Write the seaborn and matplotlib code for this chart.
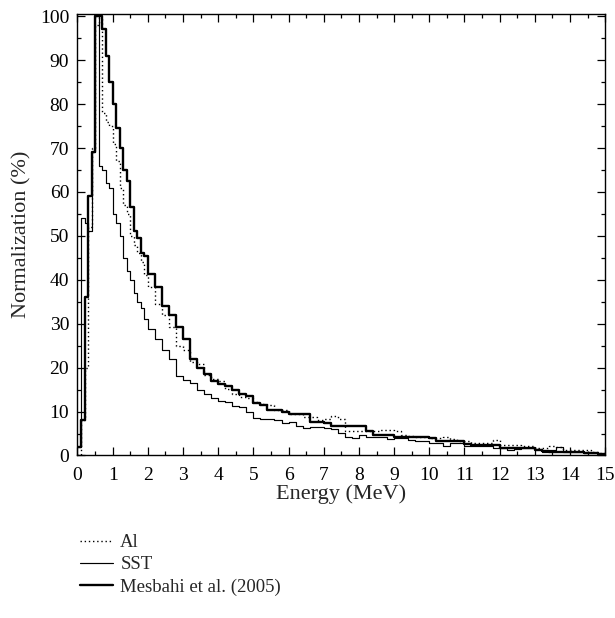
import numpy as np
import pandas as pd
import matplotlib

matplotlib.use("Agg")
import matplotlib.pyplot as plt
from matplotlib.lines import Line2D
from matplotlib.ticker import MultipleLocator
import seaborn as sns

# bin edges (MeV): 0.1 MeV bins up to 2 MeV, 0.2 MeV bins up to 15 MeV
energy_edges = np.round(np.concatenate([np.arange(0, 2.0, 0.1), np.arange(2.0, 15.01, 0.2)]), 2)

al_values = [
    0, 8, 20, 52, 70, 98, 100, 78, 76, 75,
    71, 67, 61, 57, 55, 50, 48, 46, 44, 41,
    38.3, 34.5, 31.9, 29.2, 25,
    23.9, 21.3, 20.9, 18.3, 17.5,
    17, 15.2, 14.1, 13.3, 13,
    12.2, 11.8, 11.4, 10.3, 10.3,
    9.5, 9.5, 8.8, 8.8, 8.0,
    8.4, 8.9, 8.2, 5.5, 5.5,
    5.5, 5.5, 5.5, 5.9, 5.9,
    5.5, 4.7, 4.5, 4.3, 4.3,
    4.0, 4.0, 4.3, 3.8, 3.2,
    3.2, 2.8, 2.8, 2.8, 3.6,
    2.4, 2.4, 2.3, 2.1, 2.1,
    1.7, 1.7, 2.1, 2.0, 1.3,
    1.3, 1.3, 1.2, 0.7, 0.6,
]

sst_values = [
    2, 54, 53, 51, 69, 100, 66, 65, 62, 61,
    55, 53, 50, 45, 42, 40, 37, 35, 33.5, 31,
    28.9, 26.5, 24, 22, 18,
    17.1, 16.4, 15, 14, 13,
    12.4, 12.2, 11.2, 11, 9.9,
    8.6, 8.4, 8.2, 8, 7.3,
    7.6, 6.8, 6.3, 6.5, 6.5,
    6.2, 6, 5.2, 4.2, 4,
    4.7, 4.2, 4.3, 4.3, 3.7,
    4, 4, 3.5, 3.2, 3.2,
    2.9, 2.8, 2.2, 2.8, 2.8,
    2.1, 2.1, 2.1, 2.1, 1.7,
    1.7, 1.3, 1.4, 1.7, 1.7,
    1.5, 0.9, 1.2, 2.0, 0.9,
    0.9, 0.9, 0.6, 0.5, 0.4,
]

mesbahi_values = [
    2, 8, 36, 59, 69, 100, 100, 97, 91, 85,
    80, 74.5, 70, 65, 62.5, 56.5, 51, 49.5, 46, 45.5,
    41.4, 38.3, 34, 32, 29.2,
    26.6, 22, 19.8, 18.6, 17,
    16.2, 15.8, 14.8, 14.1, 13.5,
    12, 11.4, 10.3, 10.3, 10,
    9.4, 9.4, 9.4, 7.6, 7.6,
    7.4, 6.6, 6.6, 6.6, 6.6,
    6.6, 5.5, 4.7, 4.7, 4.7,
    4.3, 4.3, 4.3, 4.3, 4.3,
    3.9, 3.4, 3.2, 3.2, 3.2,
    2.5, 2.4, 2.4, 2.4, 2.3,
    1.8, 1.7, 1.7, 1.7, 1.6,
    1.2, 1.0, 0.9, 0.9, 0.9,
    0.9, 0.9, 0.5, 0.5, 0.4,
]

series_labels = ["Al", "SST", "Mesbahi et al. (2005)"]


def step_frame(values):
    # repeat last value so the final bin gets its right edge
    return pd.DataFrame({"energy": energy_edges, "norm": list(values) + [values[-1]]})


def main():
    sns.set_style("ticks")
    plt.rcParams["font.family"] = ["Liberation Serif", "DejaVu Serif"]
    plt.rcParams["font.size"] = 14

    styles = [
        {"linestyle": (0, (1, 2)), "linewidth": 1.0},
        {"linestyle": "-", "linewidth": 0.85},
        {"linestyle": "-", "linewidth": 1.7},
    ]

    fig = plt.figure(figsize=(6.15, 6.18), dpi=100)
    ax = fig.add_axes([0.126, 0.263, 0.858, 0.715])

    handles = []
    for values, style, label in zip([al_values, sst_values, mesbahi_values], styles, series_labels):
        sns.lineplot(
            data=step_frame(values),
            x="energy",
            y="norm",
            drawstyle="steps-post",
            estimator=None,
            sort=False,
            color="black",
            ax=ax,
            **style,
        )
        handles.append(Line2D([], [], color="black", label=label, **style))

    ax.set_xlim(0, 15)
    ax.set_ylim(0, 100.6)
    ax.xaxis.set_major_locator(MultipleLocator(1))
    ax.xaxis.set_minor_locator(MultipleLocator(0.5))
    ax.yaxis.set_major_locator(MultipleLocator(10))
    ax.yaxis.set_minor_locator(MultipleLocator(5))
    ax.tick_params(which="both", direction="in", top=True, right=True, width=0.9, colors="black")
    ax.tick_params(which="major", length=5.5, pad=6, labelsize=14)
    ax.tick_params(axis="x", which="major", pad=8.5)
    ax.tick_params(which="minor", length=3)
    for spine in ax.spines.values():
        spine.set_linewidth(1.0)
        spine.set_color("black")

    ax.set_xlabel("Energy (MeV)", fontsize=16, labelpad=0)
    ax.set_ylabel("Normalization (%)", fontsize=16, labelpad=6)

    fig.legend(
        handles=handles,
        loc="upper left",
        bbox_to_anchor=(0.13, 0.136),
        frameon=False,
        fontsize=13.5,
        borderpad=0,
        borderaxespad=0,
        handlelength=1.75,
        handletextpad=0.4,
        labelspacing=0.28,
    )

    fig.savefig("out.png", dpi=100)
    plt.close(fig)


if __name__ == "__main__":
    main()
